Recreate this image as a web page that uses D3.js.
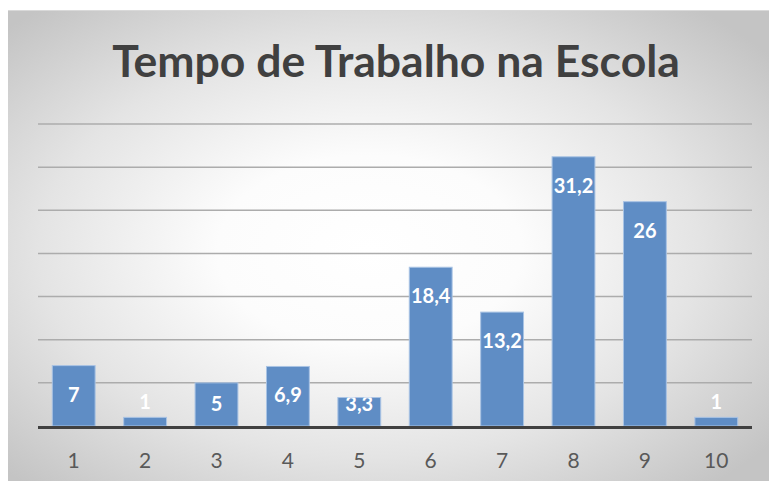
<!DOCTYPE html>
<html>
<head>
<meta charset="utf-8">
<script src="https://cdn.jsdelivr.net/npm/d3@7"></script>
<style>
  html, body { margin: 0; padding: 0; background: #fff; }
  svg { display: block; }
</style>
</head>
<body>
<svg id="chart" width="769" height="481"></svg>
<script>
// data
let categories = ['1', '2', '3', '4', '5', '6', '7', '8', '9', '10'];
let values = [7, 1, 5, 6.9, 3.3, 18.4, 13.2, 31.2, 26, 1];
let labels = ['7', '1', '5', '6,9', '3,3', '18,4', '13,2', '31,2', '26', '1'];
let yTicks = [0, 5, 10, 15, 20, 25, 30, 35];

let svg = d3.select('#chart');
let width = 769, height = 481;
let margin = { left: 38, right: 17, top: 124, bottom: 55 };

// background gradient
let defs = svg.append('defs');
let grad = defs.append('radialGradient')
  .attr('id', 'bg')
  .attr('cx', '0.47').attr('cy', '0.5').attr('r', '0.66');
grad.append('stop').attr('offset', '0%').attr('stop-color', '#ffffff');
grad.append('stop').attr('offset', '30%').attr('stop-color', '#fcfcfc');
grad.append('stop').attr('offset', '65%').attr('stop-color', '#e4e4e4');
grad.append('stop').attr('offset', '100%').attr('stop-color', '#c4c4c4');

svg.append('rect')
  .attr('x', 8).attr('y', 10)
  .attr('width', width).attr('height', height)
  .attr('fill', 'url(#bg)');
svg.append('line')
  .attr('x1', 8).attr('x2', width)
  .attr('y1', 10.5).attr('y2', 10.5)
  .attr('stroke', '#d9d9d9').attr('stroke-width', 1);

let x = d3.scaleBand()
  .domain(categories)
  .range([margin.left, width - margin.right])
  .paddingInner(0.4)
  .paddingOuter(0.2);

let y = d3.scaleLinear()
  .domain([0, 35])
  .range([426, 124]);

// gridlines
svg.append('g')
  .selectAll('line')
  .data(yTicks.slice(1))
  .join('line')
  .attr('x1', margin.left).attr('x2', width - margin.right)
  .attr('y1', d => y(d)).attr('y2', d => y(d))
  .attr('stroke', '#acacac')
  .attr('stroke-width', 1.5);

// bars
let bars = svg.append('g')
  .selectAll('rect')
  .data(values)
  .join('rect')
  .attr('x', (d, i) => x(categories[i]))
  .attr('y', d => y(d))
  .attr('width', x.bandwidth())
  .attr('height', d => y(0) - y(d))
  .attr('fill', '#5f8dc5')
  .attr('stroke', '#a9c3e4')
  .attr('stroke-width', 1);

// clip paths for labels sitting inside the bars
defs.selectAll('clipPath')
  .data(values)
  .join('clipPath')
  .attr('id', (d, i) => 'clip' + i)
  .append('rect')
  .attr('x', (d, i) => x(categories[i]) - 10)
  .attr('y', d => y(d))
  .attr('width', x.bandwidth() + 20)
  .attr('height', d => y(0) - y(d));

// axis line
svg.append('line')
  .attr('x1', margin.left).attr('x2', width - margin.right)
  .attr('y1', 427.5).attr('y2', 427.5)
  .attr('stroke', '#404040')
  .attr('stroke-width', 3);

// data labels
svg.append('g')
  .selectAll('text')
  .data(values)
  .join('text')
  .attr('x', (d, i) => x(categories[i]) + x.bandwidth() / 2)
  .attr('y', d => {
    let h = y(0) - y(d);
    if (h < 20) return y(d) - 16;
    return Math.min(y(d) + 28, y(0) - 23);
  })
  .attr('clip-path', (d, i) => (y(0) - y(d) < 20 ? null : 'url(#clip' + i + ')'))
  .attr('text-anchor', 'middle')
  .attr('dominant-baseline', 'central')
  .attr('font-family', 'Lato, "Open Sans", sans-serif')
  .attr('font-weight', 700)
  .attr('font-size', 20)
  .attr('fill', '#ffffff')
  .text((d, i) => labels[i]);

// category labels
let xAxis = d3.axisBottom(x).tickSize(0).tickPadding(0);
let gx = svg.append('g')
  .attr('transform', 'translate(0,461)')
  .call(xAxis);
gx.select('.domain').remove();
gx.selectAll('text')
  .attr('dy', '0.35em')
  .attr('font-family', 'Lato, "Open Sans", sans-serif')
  .attr('font-size', 21)
  .attr('fill', '#595959');

// title
let title = svg.append('text')
  .attr('x', 396)
  .attr('y', 77)
  .attr('text-anchor', 'middle')
  .attr('font-family', 'Lato, "Open Sans", sans-serif')
  .attr('font-weight', 700)
  .attr('font-size', 46)
  .attr('fill', '#404040')
  .text('Tempo de Trabalho na Escola');
let tw = title.node().getComputedTextLength();
title.attr('font-size', 46 * 568 / tw);
</script>
</body>
</html>
